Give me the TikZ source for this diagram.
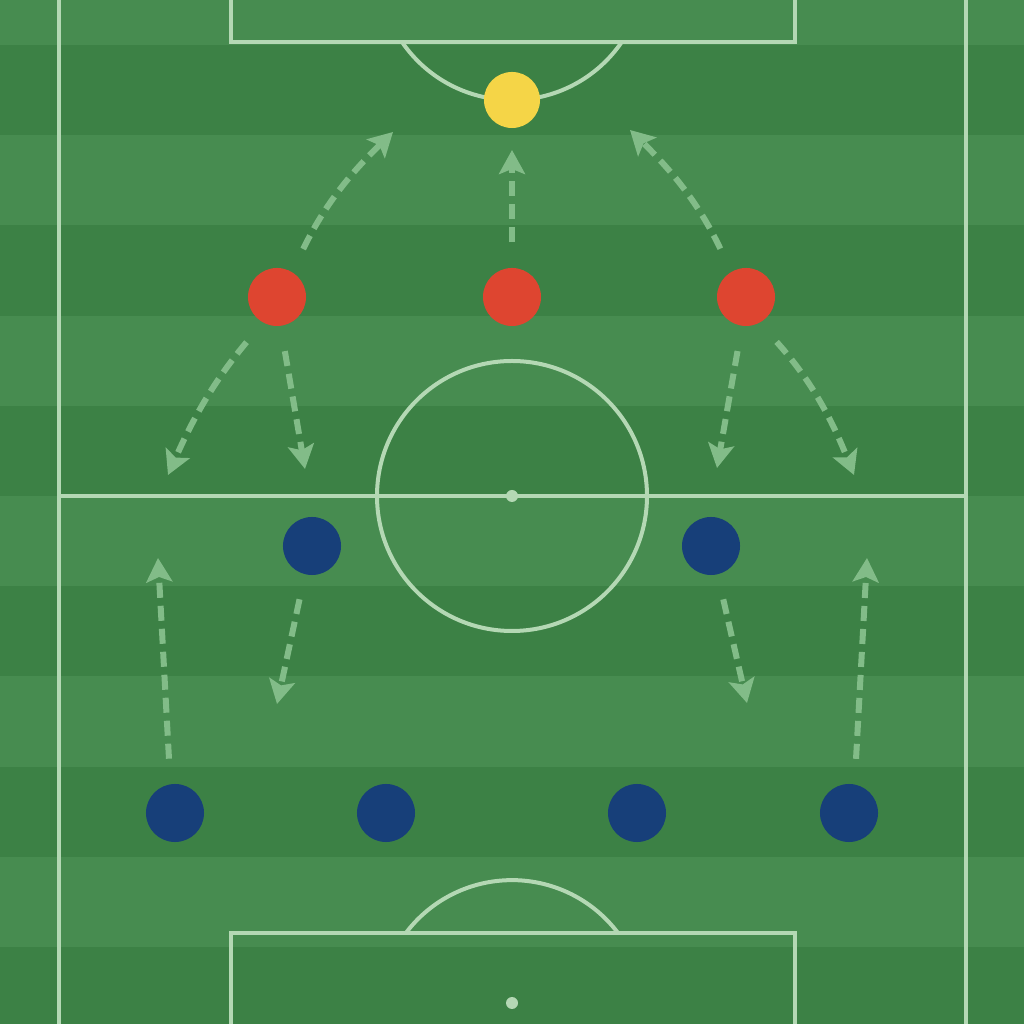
\documentclass[tikz,border=0pt]{standalone}
\usepackage{tikz}
\usetikzlibrary{arrows.meta}
\definecolor{grasslight}{HTML}{478C50}
\definecolor{grassdark}{HTML}{3C8145}
\definecolor{chalk}{HTML}{B4D8B4}
\definecolor{runcolor}{HTML}{82BC88}
\definecolor{keepercolor}{HTML}{F5D547}
\definecolor{redcolor}{HTML}{DE4530}
\definecolor{bluecolor}{HTML}{173F79}
\tikzset{
	keeperstyle/.style={circle,fill=keepercolor,minimum size=0.56cm,inner sep=0},
	redstyle/.style={circle,fill=redcolor,minimum size=0.58cm,inner sep=0},
	bluestyle/.style={circle,fill=bluecolor,minimum size=0.58cm,inner sep=0},
	chalkstyle/.style={draw=chalk,line width=0.04cm},
	runstyle/.style={draw=runcolor,line width=0.06cm,dash pattern=on 0.15cm off 0.08cm,shorten <=0.25cm,-{Stealth[length=0.24cm,width=0.26cm,inset=0.05cm]}}
}

\begin{document}
\begin{tikzpicture}[x=0.01cm,y=0.01cm]
	\useasboundingbox (0,0) rectangle (1024,1024);
	\clip (0,0) rectangle (1024,1024);
	\fill[grasslight] (0,0) rectangle (1024,1024);
	\fill[grassdark] (0,979) rectangle (1024,888.8);
	\fill[grassdark] (0,798.6) rectangle (1024,708.4);
	\fill[grassdark] (0,618.2) rectangle (1024,528);
	\fill[grassdark] (0,437.8) rectangle (1024,347.6);
	\fill[grassdark] (0,257.4) rectangle (1024,167.2);
	\fill[grassdark] (0,77) rectangle (1024,-13.2);
	\draw[chalkstyle] (59,-10) -- (59,1034);
	\draw[chalkstyle] (966,-10) -- (966,1034);
	\draw[chalkstyle] (59,528) -- (966,528);
	\draw[chalkstyle] (512,528) circle (135);
	\fill[chalk] (512,528) circle (6);
	\draw[chalkstyle] (231,1040) |- (795,982) -- (795,1040);
	\draw[chalkstyle] (402,982) arc (214.3:325.7:133);
	\draw[chalkstyle] (231,-20) |- (795,91) -- (795,-20);
	\draw[chalkstyle] (618,91) arc (37:143:132.8);
	\fill[chalk] (512,21) circle (6);
	\node[keeperstyle] (k) at (512,924) {};
	\node[redstyle] (r1) at (277,727) {};
	\node[redstyle] (r2) at (512,727) {};
	\node[redstyle] (r3) at (746,727) {};
	\node[bluestyle] (b1) at (312,478) {};
	\node[bluestyle] (b2) at (711,478) {};
	\node[bluestyle] (b3) at (175,211) {};
	\node[bluestyle] (b4) at (386,211) {};
	\node[bluestyle] (b5) at (637,211) {};
	\node[bluestyle] (b6) at (849,211) {};
	\coordinate (t1) at (393,892);
	\coordinate (t2) at (168,549);
	\coordinate (t3) at (305,555);
	\coordinate (t4) at (512,874);
	\coordinate (t5) at (630,894);
	\coordinate (t6) at (717,556);
	\coordinate (t7) at (854,549);
	\coordinate (t8) at (277,320);
	\coordinate (t9) at (747,321);
	\coordinate (t10) at (158,466);
	\coordinate (t11) at (867,466);
	\draw[runstyle] (r1.59) to[bend left=10] (t1);
	\draw[runstyle] (r1.-119) to[bend right=8] (t2);
	\draw[runstyle] (r1.-83) -- (t3);
	\draw[runstyle] (r2.90) -- (t4);
	\draw[runstyle] (r3.120) to[bend right=10] (t5);
	\draw[runstyle] (r3.-98) -- (t6);
	\draw[runstyle] (r3.-62) to[bend left=10] (t7);
	\draw[runstyle] (b1.-104) -- (t8);
	\draw[runstyle] (b2.-77) -- (t9);
	\draw[runstyle] (b3.99) -- (t10);
	\draw[runstyle] (b6.79) -- (t11);
\end{tikzpicture}
\end{document}
